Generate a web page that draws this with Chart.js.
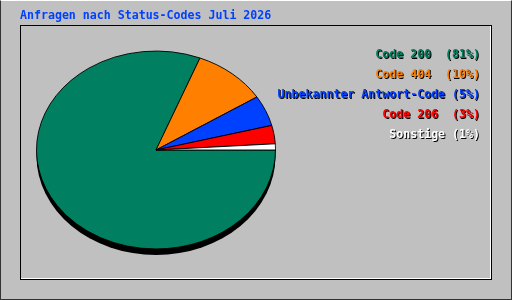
<!DOCTYPE html>
<html>
<head>
<meta charset="utf-8">
<script src="https://cdn.jsdelivr.net/npm/chart.js@4"></script>
<style>
  html, body { margin: 0; padding: 0; }
  body {
    width: 512px; height: 300px; background: #c0c0c0;
    position: relative; overflow: hidden;
    font-family: "DejaVu Sans Mono", monospace; font-weight: bold; font-size: 11.6px;
  }
  #frame { position: absolute; left: 0; top: 0; width: 512px; height: 300px; box-sizing: border-box;
           border: 1px solid #333; border-top-color: #fff; }
  #panel { position: absolute; left: 20px; top: 25px; width: 470px; height: 253px;
           border: 1px solid #000; box-shadow: inset -1px -1px 0 #fff; }
  #pie { position: absolute; left: 0; top: 0; }
  #title { position: absolute; left: 20px; top: 9px; color: #0040ff; line-height: 12px; white-space: pre; }
  #legend { position: absolute; right: 32px; top: 44px; text-align: right; }
  #legend div { line-height: 20px; white-space: pre; text-shadow: 1px 1px 0 #000; }
</style>
</head>
<body>
<div id="frame"></div>
<div id="panel"></div>
<canvas id="pie" width="512" height="300"></canvas>
<div id="title">Anfragen nach Status-Codes Juli 2026</div>
<div id="legend"></div>
<script>
// Daten
const labels = ['Code 200 ', 'Code 404 ', 'Unbekannter Antwort-Code', 'Code 206 ', 'Sonstige'];
const shares = [81, 10, 5, 3, 1];
const sliceColors = ['#008060', '#ff8000', '#0040ff', '#ff0000', '#ffffff'];

const yScale = 0.828;   // Kreis zur Ellipse stauchen
const shadowDrop = 6;   // Schatten nach unten

// Legende als Text
const legendBox = document.getElementById('legend');
labels.forEach((l, i) => {
    const row = document.createElement('div');
    row.textContent = l + ' (' + shares[i] + '%)';
    row.style.color = sliceColors[i];
    legendBox.appendChild(row);
});

const squash = {
    id: 'squash',
    beforeDatasetsDraw(chart) {
        const arc = chart.getDatasetMeta(0).data[0];
        const ctx = chart.ctx;
        ctx.save();
        ctx.translate(arc.x, arc.y);
        ctx.scale(1, yScale);
        ctx.translate(-arc.x, -arc.y);
        // Schatten unter dem Kuchen
        ctx.beginPath();
        ctx.arc(arc.x, arc.y + shadowDrop / yScale, arc.outerRadius, 0, Math.PI * 2);
        ctx.fillStyle = '#000';
        ctx.fill();
    },
    afterDatasetsDraw(chart) {
        chart.ctx.restore();
    }
};

const ctxPie = document.getElementById('pie').getContext('2d');
const pieChart = new Chart(ctxPie, {
    type: 'pie',
    data: {
        labels: labels,
        datasets: [{
            data: shares,
            backgroundColor: sliceColors,
            borderColor: '#000',
            borderWidth: 1
        }]
    },
    options: {
        responsive: false,
        animation: false,
        rotation: 90,
        layout: {
            padding: { left: 36, right: 236, top: 30, bottom: 30 }
        },
        plugins: {
            legend: { display: false },
            tooltip: { enabled: false }
        },
        events: []
    },
    plugins: [squash]
});
</script>
</body>
</html>
